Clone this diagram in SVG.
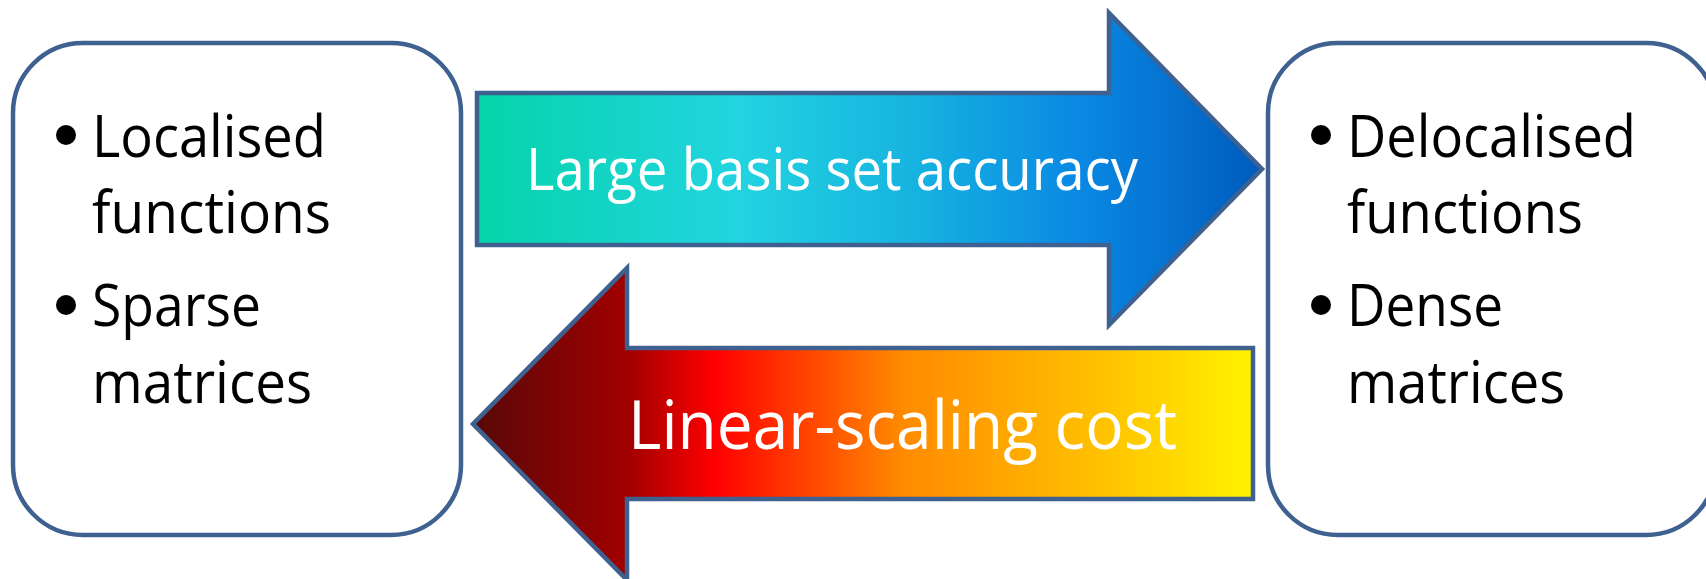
<svg xmlns="http://www.w3.org/2000/svg" width="1706" height="579" viewBox="0 0 1706 579">
  <style>
    .box { fill: #ffffff; stroke: #3f6190; stroke-width: 4.5; }
    .arrow { stroke: #3f6190; stroke-width: 4.5; stroke-linejoin: miter; }
    .item { font-family: "Open Sans", "Liberation Sans", sans-serif; font-size: 59px; fill: #000000; }
    .label { font-family: "Open Sans", "Liberation Sans", sans-serif; fill: #ffffff; }
    .bullet { fill: #000000; }
  </style>
  <defs>
    <linearGradient id="blueGrad" gradientUnits="userSpaceOnUse" x1="477" y1="0" x2="1262" y2="0">
      <stop offset="0" stop-color="#05d4aa"/>
      <stop offset="0.33" stop-color="#22d4e0"/>
      <stop offset="0.55" stop-color="#17b4e0"/>
      <stop offset="0.76" stop-color="#0a8ae4"/>
      <stop offset="1" stop-color="#005bbd"/>
    </linearGradient>
    <linearGradient id="redGrad" gradientUnits="userSpaceOnUse" x1="473" y1="0" x2="1253" y2="0">
      <stop offset="0" stop-color="#580808"/>
      <stop offset="0.2" stop-color="#a20000"/>
      <stop offset="0.31" stop-color="#ff0000"/>
      <stop offset="0.55" stop-color="#ff8a00"/>
      <stop offset="0.8" stop-color="#ffc000"/>
      <stop offset="1" stop-color="#fff200"/>
    </linearGradient>
  </defs>

  <g id="node-localised">
    <rect class="box" x="13" y="43" width="448" height="492" rx="70" ry="70"/>
    <circle class="bullet" cx="66" cy="135" r="10"/>
    <text class="item" x="92" y="157" textLength="234" lengthAdjust="spacingAndGlyphs">Localised</text>
    <text class="item" x="92" y="233" textLength="239" lengthAdjust="spacingAndGlyphs">functions</text>
    <circle class="bullet" cx="66" cy="305" r="10"/>
    <text class="item" x="92" y="326" textLength="169" lengthAdjust="spacingAndGlyphs">Sparse</text>
    <text class="item" x="92" y="403" textLength="220" lengthAdjust="spacingAndGlyphs">matrices</text>
  </g>

  <g id="node-delocalised">
    <rect class="box" x="1268" y="43" width="448" height="492" rx="70" ry="70"/>
    <circle class="bullet" cx="1321" cy="135" r="10"/>
    <text class="item" x="1347" y="157" textLength="289" lengthAdjust="spacingAndGlyphs">Delocalised</text>
    <text class="item" x="1347" y="233" textLength="236" lengthAdjust="spacingAndGlyphs">functions</text>
    <circle class="bullet" cx="1321" cy="305" r="10"/>
    <text class="item" x="1347" y="326" textLength="156" lengthAdjust="spacingAndGlyphs">Dense</text>
    <text class="item" x="1347" y="403" textLength="218" lengthAdjust="spacingAndGlyphs">matrices</text>
  </g>

  <g id="connectors">
    <g id="arrow-accuracy">
      <path class="arrow" fill="url(#blueGrad)" d="M477,93 L1109,93 L1109,13 L1262,169 L1109,325 L1109,245 L477,245 Z"/>
      <text class="label" x="526" y="190" font-size="58" textLength="612" lengthAdjust="spacingAndGlyphs">Large basis set accuracy</text>
    </g>
    <g id="arrow-cost">
      <path class="arrow" fill="url(#redGrad)" d="M1253,348 L627,348 L627,268 L473,424 L627,580 L627,499 L1253,499 Z"/>
      <text class="label" x="628" y="449" font-size="67" textLength="549" lengthAdjust="spacingAndGlyphs">Linear-scaling cost</text>
    </g>
  </g>
</svg>
